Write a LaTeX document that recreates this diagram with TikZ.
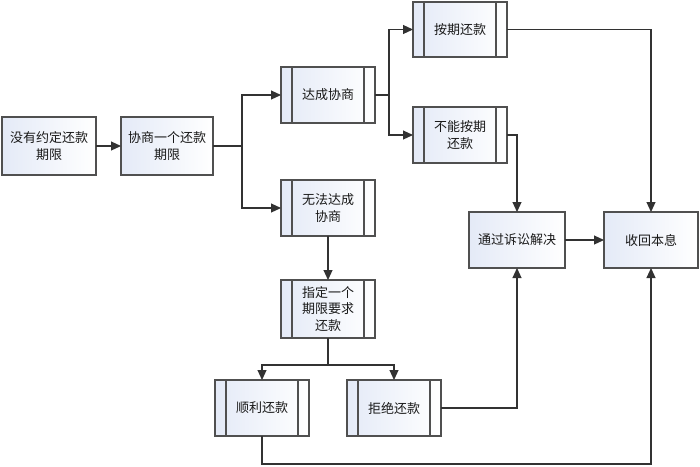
\documentclass[tikz,border=0pt]{standalone}
\usepackage{fontspec}
\newfontfamily\cjk{Noto Sans CJK SC}
\usetikzlibrary{arrows.meta}
\definecolor{boxline}{RGB}{80,80,80}
\definecolor{conn}{RGB}{50,50,50}
\definecolor{shadeA}{RGB}{228,234,247}
\tikzset{
  box/.style={draw=boxline, line width=1.2pt, rectangle, inner sep=0pt, outer sep=0pt,
    left color=shadeA, right color=white, align=center,
    font=\cjk\fontsize{13}{16.5}\selectfont, text=black!90},
  proc/.style={box, path picture={
     \draw[boxline, line width=1.2pt] ([xshift=11pt]path picture bounding box.north west) -- ([xshift=11pt]path picture bounding box.south west);
     \draw[boxline, line width=1.2pt] ([xshift=-11pt]path picture bounding box.north east) -- ([xshift=-11pt]path picture bounding box.south east);}},
  arr/.style={draw=conn, line width=1.1pt, -{Triangle[length=10pt,width=9pt]}},
  ln/.style={draw=conn, line width=1.1pt}
}
\begin{document}
\begin{tikzpicture}[x=1pt,y=-1pt]
\useasboundingbox (0,0) rectangle (700,466);
\node[box, minimum width=94pt, minimum height=58pt] (b1) at (49,146) {没有约定还款\\期限};
\node[box, minimum width=92pt, minimum height=58pt] (b2) at (167,146) {协商一个还款\\期限};
\node[proc, minimum width=94pt, minimum height=56pt] (b3) at (328,95) {达成协商};
\node[proc, minimum width=94pt, minimum height=55pt] (b4) at (460,29.5) {按期还款};
\node[proc, minimum width=94pt, minimum height=56pt] (b5) at (460,135) {不能按期\\还款};
\node[proc, minimum width=94pt, minimum height=56pt] (b6) at (328,208) {无法达成\\协商};
\node[proc, minimum width=94pt, minimum height=58pt] (b7) at (328,309) {指定一个\\期限要求\\还款};
\node[proc, minimum width=94pt, minimum height=56pt] (b8) at (262,408) {顺利还款};
\node[proc, minimum width=94pt, minimum height=56pt] (b9) at (394,408) {拒绝还款};
\node[box, minimum width=96pt, minimum height=56pt] (b10) at (517,240) {通过诉讼解决};
\node[box, minimum width=94pt, minimum height=56pt] (b11) at (651,240) {收回本息};

\draw[arr] (b1) -- (b2);
\draw[arr] (b2.east) -- ([xshift=29pt]b2.east) |- (b3.west);
\draw[arr] ([xshift=29pt]b2.east) |- (b6.west);
\draw[arr] (b3.east) -- ([xshift=14pt]b3.east) |- (b4.west);
\draw[arr] ([xshift=14pt]b3.east) |- (b5.west);
\draw[arr] (b4.east) -| (b11.north);
\draw[arr] (b5.east) -| (b10.north);
\draw[arr] (b6) -- (b7);
\draw[arr] (b7.south) -- ([yshift=-27pt]b7.south) -| (b8.north);
\draw[arr] ([yshift=-27pt]b7.south) -| (b9.north);
\draw[arr] (b9.east) -| (b10.south);
\draw[arr] (b8.south) -- ([yshift=-28pt]b8.south) -| (b11.south);
\draw[arr] (b10) -- (b11);
\end{tikzpicture}
\end{document}
